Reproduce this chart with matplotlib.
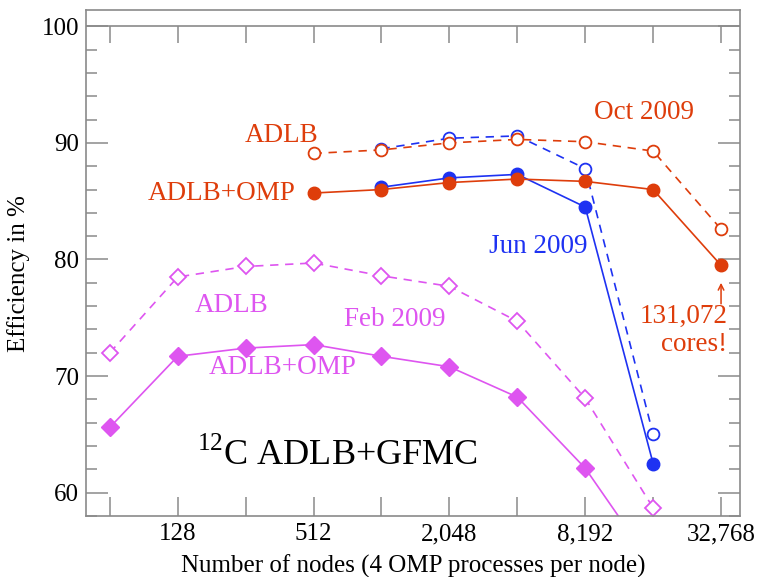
import numpy as np
import matplotlib.pyplot as plt
from matplotlib.ticker import FixedLocator, MultipleLocator

plt.rcParams['font.family'] = ['Liberation Serif', 'DejaVu Serif']
plt.rcParams['mathtext.fontset'] = 'custom'
plt.rcParams['mathtext.rm'] = 'Liberation Serif'

# nodes (powers of two)
nodes = [64, 128, 256, 512, 1024, 2048, 4096, 8192, 16384, 32768]
tick_labels = ["", "128", "", "512", "", "2,048", "", "8,192", "", "32,768"]

# Feb 2009
feb_nodes = [64, 128, 256, 512, 1024, 2048, 4096, 8192, 16384]
feb_adlb = [72.0, 78.5, 79.4, 79.7, 78.6, 77.7, 74.7, 68.1, 58.7]
feb_omp = [65.6, 71.7, 72.4, 72.7, 71.7, 70.8, 68.2, 62.1, 53.7]

# Jun 2009
jun_nodes = [1024, 2048, 4096, 8192, 16384]
jun_adlb = [89.5, 90.4, 90.6, 87.8, 65.0]
jun_omp = [86.2, 87.0, 87.3, 84.5, 62.5]

# Oct 2009
oct_nodes = [512, 1024, 2048, 4096, 8192, 16384, 32768]
oct_adlb = [89.1, 89.4, 90.0, 90.3, 90.1, 89.3, 82.6]
oct_omp = [85.7, 86.0, 86.6, 86.9, 86.7, 86.0, 79.5]

red = "#de3d0b"
blue = "#1e32f2"
mag = "#de55f0"
gray = "#8a8a8a"

fig = plt.figure(figsize=(7.57, 5.77), dpi=100)
ax = fig.add_axes([0.1136, 0.1057, 0.864, 0.877])
ax.set_xscale("log", base=2)
ax.set_xlim(50.2, 39780)
ax.set_ylim(58, 101.4)

# Feb
ax.plot(feb_nodes, feb_adlb, ls=(0, (5, 4)), lw=1.2, color=mag, marker="D",
        ms=8, mfc="white", mec=mag, mew=1.3)
ax.plot(feb_nodes, feb_omp, ls="-", lw=1.2, color=mag, marker="D",
        ms=9, mfc=mag, mec=mag)
# Jun
ax.plot(jun_nodes, jun_adlb, ls=(0, (5, 4)), lw=1.2, color=blue, marker="o",
        ms=8.5, mfc="white", mec=blue, mew=1.3)
ax.plot(jun_nodes, jun_omp, ls="-", lw=1.2, color=blue, marker="o",
        ms=9, mfc=blue, mec=blue)
# Oct
ax.plot(oct_nodes, oct_adlb, ls=(0, (5, 4)), lw=1.2, color=red, marker="o",
        ms=8.5, mfc="white", mec=red, mew=1.3)
ax.plot(oct_nodes, oct_omp, ls="-", lw=1.2, color=red, marker="o",
        ms=9, mfc=red, mec=red)

# ticks
ax.xaxis.set_major_locator(FixedLocator(nodes))
ax.xaxis.set_minor_locator(FixedLocator([]))
ax.set_xticklabels(tick_labels)
ax.yaxis.set_major_locator(MultipleLocator(10))
ax.yaxis.set_minor_locator(MultipleLocator(2))
ax.tick_params(which="both", direction="in", colors=gray, labelcolor="black",
               labelsize=18, right=True, top=False)
ax.tick_params(axis="x", which="major", length=14, width=1.1, pad=5)
ax.tick_params(axis="y", which="major", length=16, width=1.1, pad=5)
ax.tick_params(axis="y", which="minor", length=8, width=1.1)
for s in ax.spines.values():
    s.set_color(gray)
    s.set_linewidth(1.2)

# line at 100 with ticks hanging from it
ax.axhline(100, color=gray, lw=1.2)
ax.vlines(nodes, 98.6, 100, color=gray, lw=1.1)

ax.set_xlabel("Number of nodes (4 OMP processes per node)", fontsize=18, labelpad=7)
ax.set_ylabel("Efficiency in %", fontsize=18, labelpad=8, y=0.48)

# annotations
ax.text(539, 90.64, "ADLB", color=red, fontsize=19.5, ha="right", va="center")
ax.text(426, 85.67, "ADLB+OMP", color=red, fontsize=19.5, ha="right", va="center")
ax.text(8980, 92.6, "Oct 2009", color=red, fontsize=19.5, ha="left", va="center")
ax.text(3079, 81.1, "Jun 2009", color=blue, fontsize=19.5, ha="left", va="center")
ax.text(152, 76.05, "ADLB", color=mag, fontsize=19.5, ha="left", va="center")
ax.text(702, 74.85, "Feb 2009", color=mag, fontsize=19.5, ha="left", va="center")
ax.text(175.6, 70.7, "ADLB+OMP", color=mag, fontsize=19.5, ha="left", va="center")
ax.text(155.5, 63.2, r"$^{\mathrm{12}}$C ADLB+GFMC", color="black", fontsize=26,
        ha="left", va="center")
ax.annotate("", xy=(32768, 78.0), xytext=(32768, 76.2),
            arrowprops=dict(arrowstyle="->", color=red, lw=1.1,
                            shrinkA=0, shrinkB=0))
ax.text(35000, 73.9, "131,072\ncores!", color=red, fontsize=19.5, ha="right",
        va="center", linespacing=1.15)

fig.savefig("out.png", dpi=100)
